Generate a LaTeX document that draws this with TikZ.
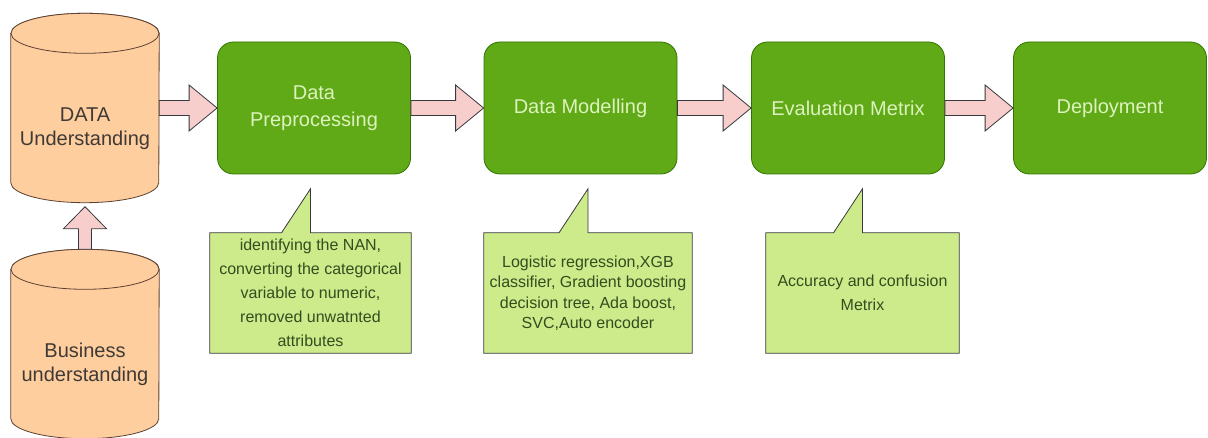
\documentclass[tikz,border=0pt]{standalone}
\usepackage{fontspec}
\setmainfont{Liberation Sans}
\usetikzlibrary {arrows.meta, positioning, calc}
\usetikzlibrary {backgrounds}
\definecolor{cylfill}{HTML}{FFCE9F}
\definecolor{cylline}{HTML}{5C4033}
\definecolor{cyltext}{HTML}{3F3A36}
\definecolor{stagegreen}{HTML}{60A917}
\definecolor{stageline}{HTML}{2D7600}
\definecolor{stagetext}{HTML}{DDF3BE}
\definecolor{notefill}{HTML}{CDEB8B}
\definecolor{noteline}{HTML}{36393D}
\definecolor{notetext}{HTML}{334D1F}
\definecolor{arrowpink}{HTML}{F8CECC}
\definecolor{arrowline}{HTML}{36393D}
\tikzset{
    cylbox/.style={minimum width=148pt, minimum height=189pt, inner sep=0pt},
    cylbody/.style={fill=cylfill, draw=cylline, line width=0.8pt},
    cyllabel/.style={align=center, text=cyltext, font=\fontsize{20}{24}\selectfont},
    stage/.style={rectangle, rounded corners=16pt, fill=stagegreen, draw=stageline,
        line width=0.8pt, minimum width=193pt, minimum height=132pt, inner sep=0pt,
        align=center, text=stagetext, font=\fontsize{20}{27}\selectfont},
    notebox/.style={minimum height=120pt, inner sep=0pt, align=center,
        text=notetext, font=\fontsize{16}{24}\selectfont},
    noteshape/.style={fill=notefill, draw=noteline, line width=0.8pt},
    fatarrow/.style={fill=arrowpink, draw=arrowline, line width=0.8pt,
        to path={let \p1=(\tikztostart), \p2=(\tikztotarget) in
            (\x1,\y1+7.5pt) -- (\x2-28pt,\y1+7.5pt) -- (\x2-28pt,\y1+23pt) -- (\x2,\y1)
            -- (\x2-28pt,\y1-23pt) -- (\x2-28pt,\y1-7.5pt) -- (\x1,\y1-7.5pt) -- cycle}},
    fatarrowup/.style={fill=arrowpink, draw=arrowline, line width=0.8pt,
        to path={let \p1=(\tikztostart), \p2=(\tikztotarget) in
            (\x1-6.5pt,\y1) -- (\x1-6.5pt,\y2-22pt) -- (\x1-21.5pt,\y2-22pt) -- (\x1,\y2)
            -- (\x1+21.5pt,\y2-22pt) -- (\x1+6.5pt,\y2-22pt) -- (\x1+6.5pt,\y1) -- cycle}}
}

\begin{document}
\begin{tikzpicture}[x=1pt, y=1pt]
    \useasboundingbox (0,0) rectangle (1208,437);

    \node[cylbox] (dataund) at (85,329) {};
    \node[cylbox] (bizund) at (85,93) {};
    \node[cyllabel] (dataundtext) at ($(dataund)+(0,-21)$) {DATA\\Understanding};
    \node[cyllabel] (bizundtext) at ($(bizund)+(0,-20)$) {Business\\understanding};

    \node[stage] (prep) at (314,329) {Data\\Preprocessing};
    \node[stage] (model) at (580.5,329) {Data Modelling};
    \node[stage] (eval) at (848,329) {Evaluation Metrix};
    \node[stage] (deploy) at (1110,329) {Deployment};

    \node[notebox, minimum width=201pt] (prepnote) at (310.5,144)
        {identifying the NAN,\\converting the categorical\\variable to numeric,\\removed unwatnted\\attributes};
    \node[notebox, minimum width=208pt, font=\fontsize{16}{20.5}\selectfont] (modelnote) at (588,144)
        {Logistic regression,XGB\\classifier, Gradient boosting\\decision tree, Ada boost,\\SVC,Auto encoder};
    \node[notebox, minimum width=193pt] (evalnote) at (862.5,144)
        {Accuracy and confusion\\Metrix};

    \begin{scope}[on background layer]
        \foreach \c in {dataund, bizund}{
            \filldraw[cylbody] ($(\c.north west)+(0,-20)$) -- ($(\c.south west)+(0,20)$)
                arc[start angle=180, end angle=360, x radius=74pt, y radius=20pt]
                -- ($(\c.north east)+(0,-20)$)
                arc[start angle=0, end angle=180, x radius=74pt, y radius=20pt] -- cycle;
            \draw[cylbody] ($(\c.north)+(0,-20)$) ellipse[x radius=74pt, y radius=20pt];
        }
        \foreach \n in {prepnote, modelnote, evalnote}{
            \filldraw[noteshape] (\n.south west) -- (\n.north west)
                -- ($(\n.north)+(-29,0)$) -- ($(\n.north)+(0,44)$) -- (\n.north)
                -- (\n.north east) -- (\n.south east) -- cycle;
        }
    \end{scope}

    \coordinate (uptip) at ($(dataund.south)+(0,-4)$);
    \draw[fatarrowup] (bizund.north) to (uptip);
    \draw[fatarrow] (dataund.east) to (prep.west);
    \draw[fatarrow] (prep.east) to (model.west);
    \draw[fatarrow] (model.east) to (eval.west);
    \draw[fatarrow] (eval.east) to (deploy.west);
\end{tikzpicture}
\end{document}
